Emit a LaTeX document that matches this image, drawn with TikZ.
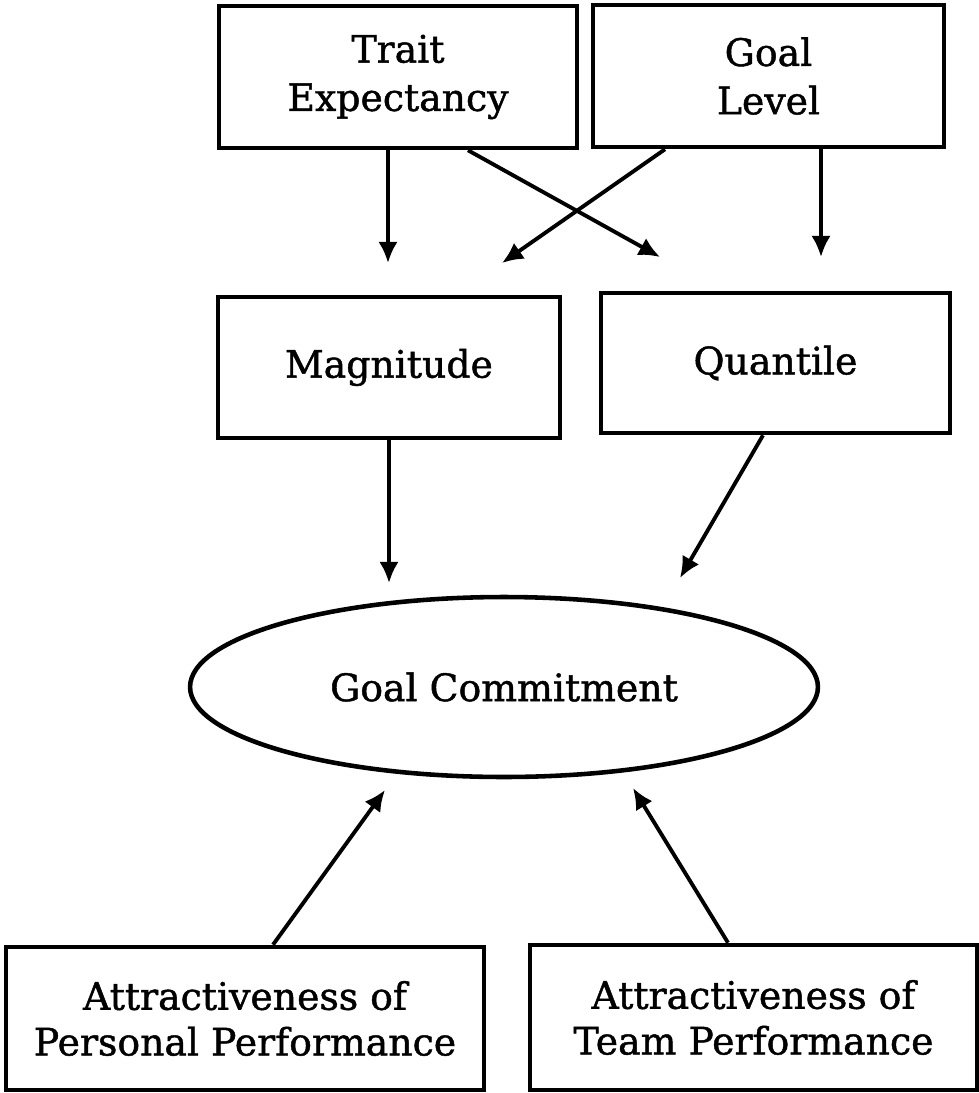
\documentclass[tikz,border=0pt]{standalone}
\usepackage{fontspec}
\setmainfont[FakeBold=1.2]{DejaVu Serif}
\usetikzlibrary{shapes.geometric,arrows.meta}
\begin{document}
\begin{tikzpicture}[x=0.02cm,y=-0.02cm,
  box/.style={draw, line width=2.6pt, inner sep=0pt, align=center,
    font=\fontsize{21.5}{27.5}\selectfont},
  conn/.style={line width=2.2pt, -{Latex[length=12pt,width=11pt]}}]
\useasboundingbox (0,0) rectangle (979,1093);
% boxes
\node[box, minimum width=7.16cm, minimum height=2.84cm] (trait) at (398,77) {Trait\\Expectancy};
\node[box, minimum width=7.02cm, minimum height=2.84cm] (goal) at (768.5,76) {Goal\\Level};
\node[box, minimum width=6.84cm, minimum height=2.82cm] (mag) at (389,367.5) {Magnitude};
\node[box, minimum width=6.98cm, minimum height=2.80cm] (quant) at (775.5,363) {Quantile};
\node[box, ellipse, minimum width=12.56cm, minimum height=3.6cm] (gc) at (504,687) {Goal Commitment};
\node[box, minimum width=9.56cm, minimum height=2.86cm, font=\fontsize{21.5}{26}\selectfont] (pers) at (245,1018.5) {Attractiveness of\\Personal Performance};
\node[box, minimum width=8.94cm, minimum height=2.90cm, font=\fontsize{21.5}{26}\selectfont] (team) at (753.5,1017.5) {Attractiveness of\\Team Performance};
% connector anchors
\coordinate (s1) at (388,0);   \coordinate (t1) at (388,263);
\coordinate (s2) at (468,0);   \coordinate (t2) at (660,257);
\coordinate (s3) at (665,0);   \coordinate (t3) at (502,263);
\coordinate (s4) at (821,0);   \coordinate (t4) at (821,257);
\coordinate (s5) at (389,0);   \coordinate (t5) at (389,583);
\coordinate (s6) at (763,0);   \coordinate (t6) at (680,578);
\coordinate (s7) at (273,0);   \coordinate (t7) at (385,790);
\coordinate (s8) at (728,0);   \coordinate (t8) at (633,788);
% connectors
\draw[conn] (trait.south -| s1) -- (t1);
\draw[conn] (trait.south -| s2) -- (t2);
\draw[conn] (goal.south -| s3) -- (t3);
\draw[conn] (goal.south -| s4) -- (t4);
\draw[conn] (mag.south -| s5) -- (t5);
\draw[conn] (quant.south -| s6) -- (t6);
\draw[conn] (pers.north -| s7) -- (t7);
\draw[conn] (team.north -| s8) -- (t8);
\end{tikzpicture}
\end{document}
